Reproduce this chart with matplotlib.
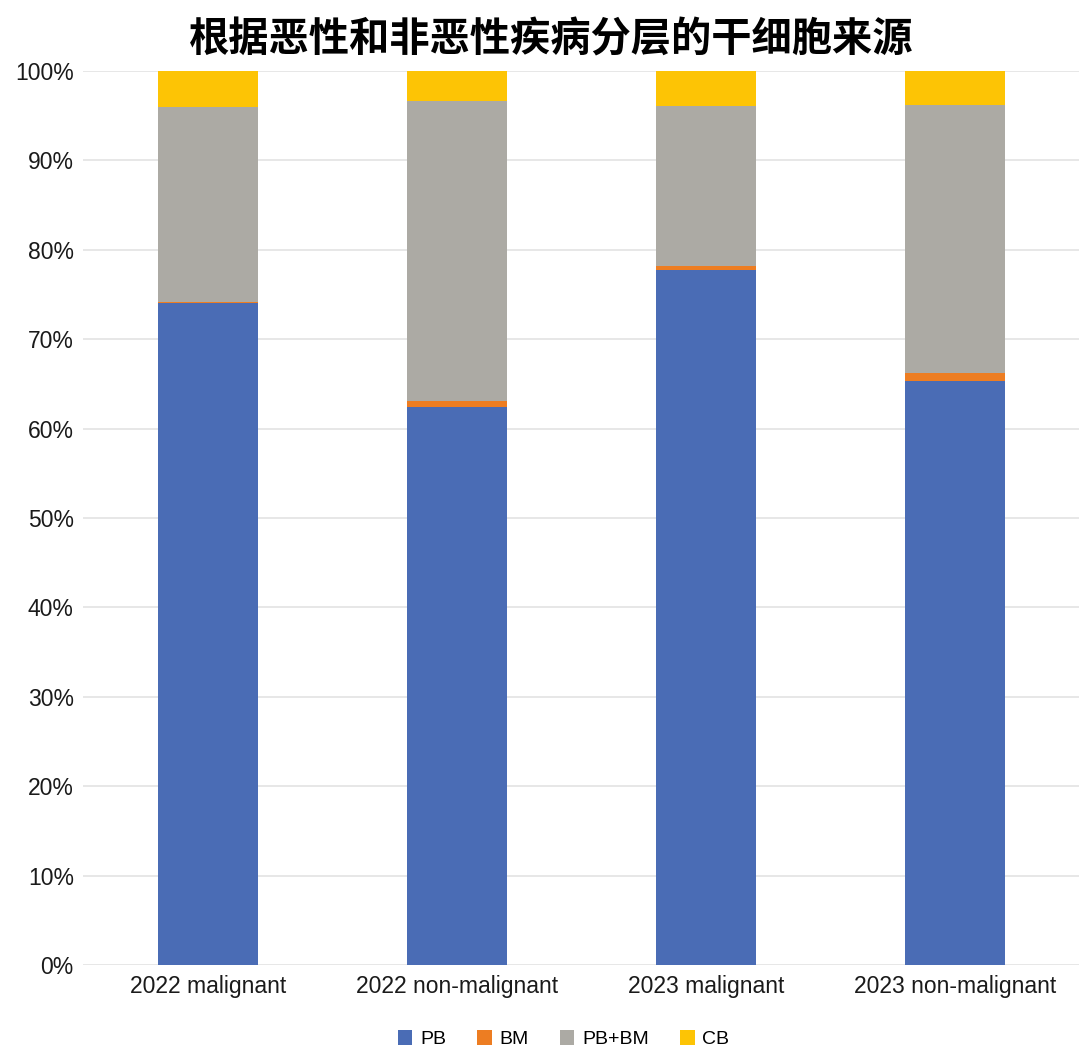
import numpy as np
import matplotlib.pyplot as plt
from matplotlib.ticker import PercentFormatter

plt.rcParams['font.family'] = ['Liberation Sans', 'Noto Sans CJK SC', 'DejaVu Sans']

categories = ['2022 malignant', '2022 non-malignant', '2023 malignant', '2023 non-malignant']
pb = [74.0, 62.4, 77.7, 65.3]
bm = [0.2, 0.7, 0.5, 0.9]
pb_bm = [21.8, 33.6, 17.9, 30.0]
cb = [4.0, 3.3, 3.9, 3.8]

series = [('PB', pb, '#4a6cb5'), ('BM', bm, '#ed7d22'),
          ('PB+BM', pb_bm, '#acaaa4'), ('CB', cb, '#fdc405')]

fig = plt.figure(figsize=(10.8, 10.54), dpi=100)
ax = fig.add_axes([0.0773, 0.0844, 0.9222, 0.8482])

x = np.arange(len(categories))
bottom = np.zeros(len(categories))
for name, vals, color in series:
    ax.bar(x, vals, 0.4, bottom=bottom, color=color, label=name, zorder=3)
    bottom += np.array(vals)

ax.set_xlim(-0.5, 3.5)
ax.set_ylim(0, 100)
ax.set_yticks(np.arange(0, 101, 10))
ax.yaxis.set_major_formatter(PercentFormatter(decimals=0))
ax.set_xticks(x)
ax.set_xticklabels(categories)
ax.tick_params(axis='both', length=0, labelsize=16.5, colors='#1a1a1a')
ax.tick_params(axis='x', pad=7)
ax.tick_params(axis='y', pad=7)
ax.grid(axis='y', color='#e3e3e3', linewidth=1.2, zorder=0)
for s in ax.spines.values():
    s.set_visible(False)

fig.text(0.51, 0.962, '根据恶性和非恶性疾病分层的干细胞来源', ha='center', va='center',
         fontsize=29, fontweight='bold', family=['Noto Sans CJK SC', 'DejaVu Sans'])

ax.legend(loc='center', bbox_to_anchor=(0.482, -0.083), ncol=4, frameon=False,
          fontsize=14, handlelength=0.75, handleheight=0.75, handletextpad=0.4,
          columnspacing=1.6)

fig.savefig('out.png', dpi=100)
